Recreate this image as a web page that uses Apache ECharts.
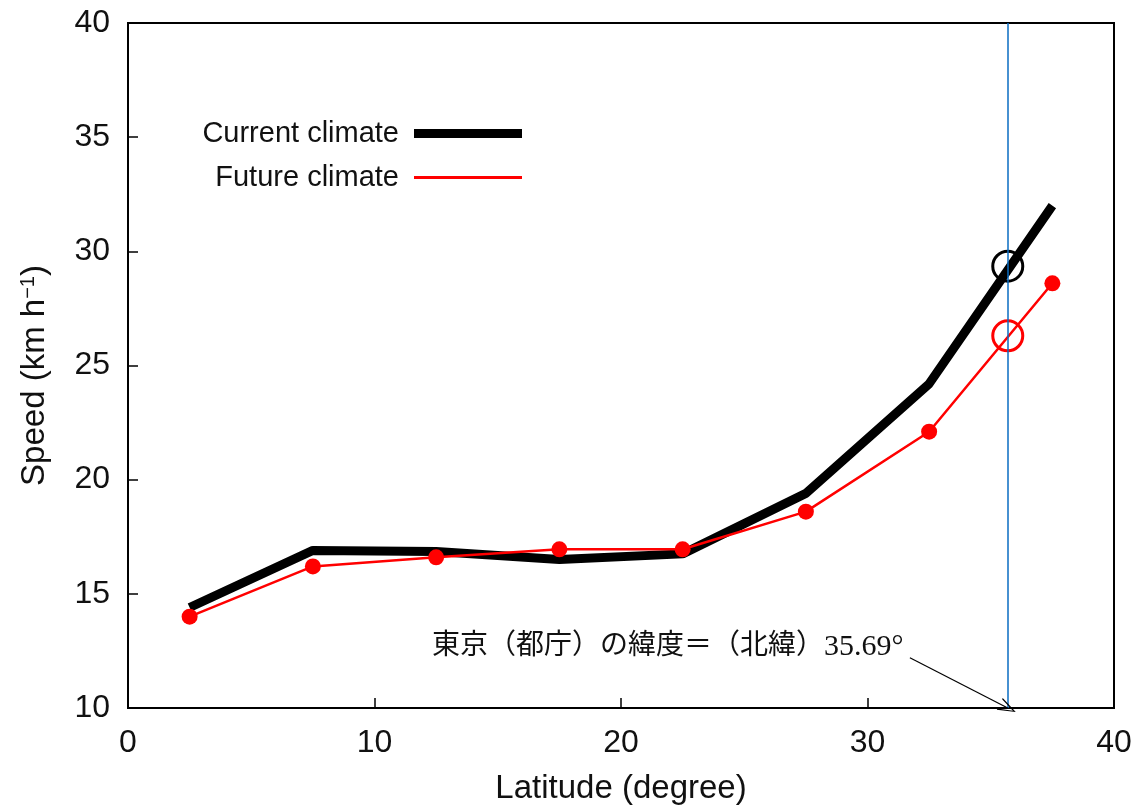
<!DOCTYPE html>
<html>
<head>
<meta charset="utf-8">
<script src="https://cdn.jsdelivr.net/npm/echarts@6/dist/echarts.min.js"></script>
<style>
  html, body { margin: 0; background: #fff; }
  #chart { width: 1139px; height: 807px; }
</style>
</head>
<body>
<div id="chart"></div>
<script>
// latitude bins (degree) and mean speed (km/h)
const latitudes = [2.5, 7.5, 12.5, 17.5, 22.5, 27.5, 32.5, 37.5]
const currentSpeed = [14.4, 16.9, 16.85, 16.5, 16.75, 19.4, 24.2, 32.0]
const futureSpeed = [14.0, 16.2, 16.6, 16.95, 16.95, 18.6, 22.1, 28.6]

// Tokyo marker
const tokyoLat = 35.69
const tokyoCurrent = 29.35
const tokyoFuture = 26.3
const arrowFrom = [31.72, 12.2]
const noteText = '東京（都庁）の緯度＝（北緯）{num|35.69°}'

const xRange = [0, 40, 10]
const yRange = [10, 40, 5]

const font = '"Liberation Sans", Arial, sans-serif'
const serif = '"Liberation Serif", "Noto Sans CJK JP", serif'
const chart = echarts.init(document.getElementById('chart'), null, { renderer: 'canvas' })

const pairs = ys => latitudes.map((x, i) => [x, ys[i]])

chart.setOption({
  backgroundColor: '#fff',
  animation: false,
  grid: {
    left: 128, right: 25, top: 23, bottom: 99, containLabel: false, outerBoundsMode: 'none',
    show: true, borderColor: '#000', borderWidth: 2,
  },
  legend: [
    {
      data: ['Current climate'], right: 612, top: 114, align: 'right', icon: 'rect',
      itemWidth: 108, itemHeight: 9,
      textStyle: { fontFamily: font, fontSize: 29, color: '#111', padding: [0, 10, 0, 0] },
    },
    {
      data: ['Future climate'], right: 612, top: 158, align: 'right', icon: 'rect',
      itemWidth: 108, itemHeight: 3,
      textStyle: { fontFamily: font, fontSize: 29, color: '#111', padding: [0, 10, 0, 0] },
    },
  ],
  xAxis: {
    type: 'value', min: xRange[0], max: xRange[1], interval: xRange[2],
    name: 'Latitude (degree)', nameLocation: 'middle', nameGap: 64,
    nameTextStyle: { fontFamily: font, fontSize: 33, color: '#111' },
    axisLine: { lineStyle: { color: '#000', width: 2 } },
    axisTick: { inside: true, length: 10, lineStyle: { color: '#000', width: 1.5 } },
    axisLabel: { fontFamily: font, fontSize: 32, color: '#111', margin: 19 },
    splitLine: { show: false },
  },
  yAxis: {
    type: 'value', min: yRange[0], max: yRange[1], interval: yRange[2],
    name: 'Speed (km h{sup|−1})', nameLocation: 'middle', nameGap: 76, nameRotate: 90,
    nameTextStyle: {
      fontFamily: font, fontSize: 33, color: '#111', padding: [0, 20, 0, 0],
      rich: { sup: { fontFamily: font, fontSize: 20, color: '#111', verticalAlign: 'top', padding: [0, 0, 14, 0] } },
    },
    axisLine: { lineStyle: { color: '#000', width: 2 } },
    axisTick: { inside: true, length: 10, lineStyle: { color: '#000', width: 1.5 } },
    axisLabel: { fontFamily: font, fontSize: 32, color: '#111', margin: 18, padding: [4, 0, 0, 0] },
    splitLine: { show: false },
  },
  series: [
    {
      name: 'Current climate', type: 'line', data: pairs(currentSpeed),
      showSymbol: false, symbol: 'none',
      lineStyle: { color: '#000', width: 9 }, itemStyle: { color: '#000' },
      z: 2,
    },
    {
      name: 'Future climate', type: 'line', data: pairs(futureSpeed),
      symbol: 'circle', symbolSize: 16,
      lineStyle: { color: '#f00', width: 2.5 }, itemStyle: { color: '#f00' },
      z: 3,
    },
    {
      name: 'Tokyo', type: 'scatter',
      data: [
        { value: [tokyoLat, tokyoCurrent], itemStyle: { borderColor: '#000' } },
        { value: [tokyoLat, tokyoFuture], itemStyle: { borderColor: '#f00' } },
      ],
      symbol: 'circle', symbolSize: 30,
      itemStyle: { color: 'rgba(0,0,0,0)', borderWidth: 3, opacity: 1 },
      z: 4,
      markLine: {
        silent: true, animation: false,
        data: [
          [
            { coord: [tokyoLat, yRange[0]], symbol: 'none', lineStyle: { color: '#0a6cc2', width: 1.5, type: 'solid', opacity: 1 } },
            { coord: [tokyoLat, yRange[1]], symbol: 'none' },
          ],
          [
            { coord: arrowFrom, symbol: 'none', lineStyle: { color: '#000', width: 1.2, type: 'solid', opacity: 1 } },
            { coord: [tokyoLat, yRange[0]], symbol: 'path://M5,0 L10,14 L9,14 L5,2.5 L1,14 L0,14 Z', symbolSize: [13, 18] },
          ],
        ],
        label: { show: false },
      },
    },
  ],
  graphic: [
    {
      type: 'text', left: 432, top: 632,
      style: {
        text: noteText, fontFamily: serif, fontSize: 28, fill: '#111',
        rich: { num: { fontFamily: serif, fontSize: 30, fill: '#111' } },
      },
    },
  ],
})
</script>
</body>
</html>
